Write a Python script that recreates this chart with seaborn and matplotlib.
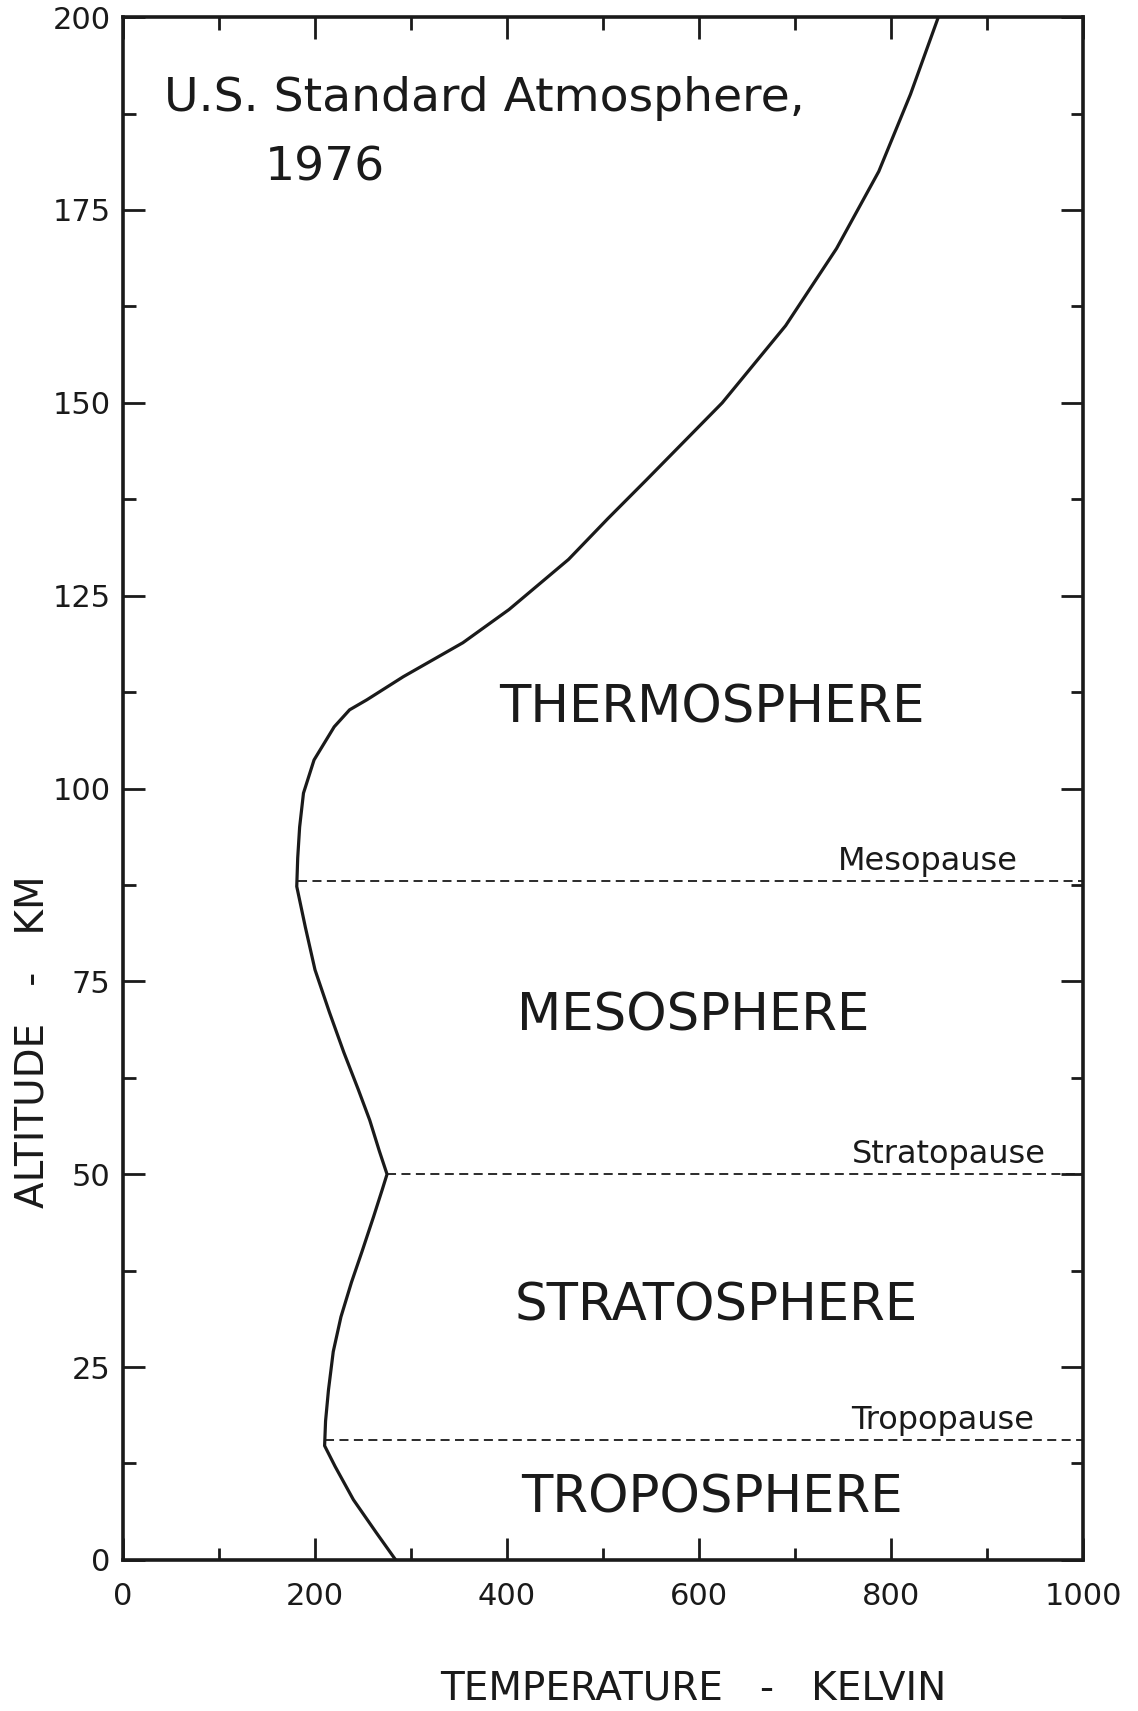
import matplotlib
matplotlib.use("Agg")
import matplotlib.pyplot as plt
import seaborn as sns
import pandas as pd
from matplotlib.ticker import MultipleLocator

# ---- data ----
altitude_km = [0, 3.5, 7.8, 12.1, 14.8, 18, 22, 27, 31.5, 36, 40, 44.5, 48, 50,
               53, 57, 61, 65.8, 71, 76.5, 82, 87.3, 91, 95, 99.4, 103.7,
               108, 110.2, 111.5, 114.5, 118.9, 123.2, 129.7, 135, 140, 150, 160,
               170, 180, 190, 200]
temperature_K = [284, 264, 240, 221, 210, 211, 214, 219, 227, 238, 249, 261, 270, 275,
                 267, 257, 245, 230, 215, 200, 190, 181, 182, 184, 188, 199,
                 220, 236, 254, 292, 354, 402, 464, 505, 545, 624, 690,
                 743, 787, 820, 849]

pause_names = ["Mesopause", "Stratopause", "Tropopause"]
pause_alt = [88, 50, 15.5]
pause_T_start = [182, 275, 210]
pause_label_T = [838, 860, 853]

layer_names = ["THERMOSPHERE", "MESOSPHERE", "STRATOSPHERE", "TROPOSPHERE"]
layer_T = [613, 594, 618, 613]
layer_alt = [110.4, 70.4, 32.8, 8.0]

x_ticks = [0, 200, 400, 600, 800, 1000]
y_ticks = [0, 25, 50, 75, 100, 125, 150, 175, 200]

df = pd.DataFrame({"T": temperature_K, "h": altitude_km})

sns.set_theme(style="ticks")
plt.rcParams["font.family"] = ["DejaVu Sans"]

ink = "#1a1a1a"
fig = plt.figure(figsize=(11.38, 17.11), dpi=100)
ax = fig.add_axes([0.108, 0.0883, 0.844, 0.9017])

sns.lineplot(data=df, x="T", y="h", orient="y", sort=True, estimator=None,
             color=ink, linewidth=2.3, ax=ax)

for name, h, t0, tl in zip(pause_names, pause_alt, pause_T_start, pause_label_T):
    ax.hlines(h, t0, 1000, colors=ink, linestyles=(0, (5, 3)), linewidth=1.3)
    ax.text(tl, h + 0.5, name, ha="center", va="bottom", fontsize=23, color=ink)

for name, t, h in zip(layer_names, layer_T, layer_alt):
    ax.text(t, h, name, ha="center", va="center", fontsize=37, color=ink)

ax.text(43, 189.4, "U.S. Standard Atmosphere,", ha="left", va="center",
        fontsize=34, color=ink)
ax.text(210, 180.4, "1976", ha="center", va="center", fontsize=34, color=ink)

ax.set_xlim(0, 1000)
ax.set_ylim(0, 200)
ax.set_xticks(x_ticks)
ax.set_yticks(y_ticks)
ax.xaxis.set_minor_locator(MultipleLocator(100))
ax.yaxis.set_minor_locator(MultipleLocator(12.5))
ax.tick_params(which="both", direction="in", top=True, right=True,
               colors=ink, width=2)
ax.tick_params(which="major", length=16, labelsize=22)
ax.tick_params(which="minor", length=9)
ax.tick_params(axis="x", which="major", pad=16)
ax.tick_params(axis="y", which="major", pad=9)

ax.set_xlabel("TEMPERATURE   -   KELVIN", fontsize=28, color=ink)
ax.xaxis.set_label_coords(0.594, -0.0836)
ax.xaxis.label.set_va("center")
ax.set_ylabel("ALTITUDE   -   KM", fontsize=28, color=ink)
ax.yaxis.set_label_coords(-0.094, 0.336)
ax.yaxis.label.set_va("center")

for s in ax.spines.values():
    s.set_linewidth(2.6)
    s.set_color(ink)
    s.set_visible(True)

fig.savefig("out.png", dpi=100, facecolor="white")
